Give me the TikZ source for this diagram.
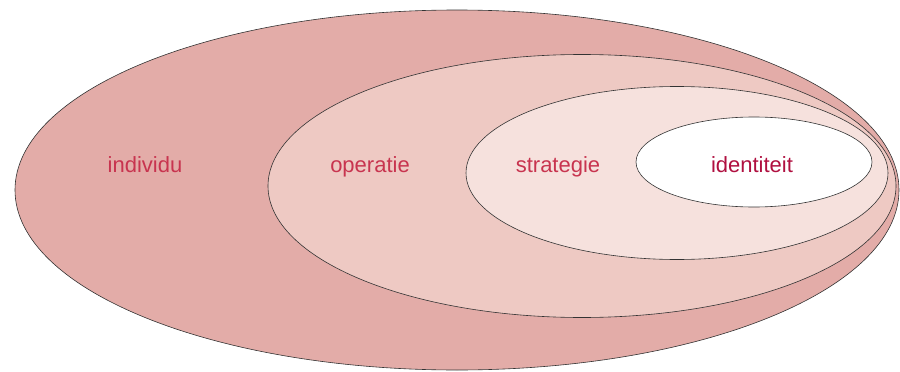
\documentclass[tikz,border=0pt]{standalone}
\usepackage{fontspec}
\setmainfont{Liberation Sans}
\usetikzlibrary{shapes.geometric}
\definecolor{ringA}{HTML}{E3ACA8}
\definecolor{ringB}{HTML}{EEC9C3}
\definecolor{ringC}{HTML}{F6E1DD}
\definecolor{labelred}{HTML}{C8344F}
\definecolor{labeldark}{HTML}{B01040}
\tikzset{
  ring/.style={ellipse, draw=black!80, line width=0.6pt, inner sep=0pt},
  lbl/.style={text=labelred, anchor=base, font=\fontsize{22}{26}\selectfont},
}
\begin{document}
\begin{tikzpicture}[x=1pt,y=-1pt]
  \useasboundingbox (0,0) rectangle (900,372);
                \node[ring, fill=ringA, minimum width=884pt, minimum height=360pt] (individu) at (457,190) {};
                \node[ring, fill=ringB, minimum width=628pt, minimum height=263pt] (operatie) at (582,186) {};
                \node[ring, fill=ringC, minimum width=422pt, minimum height=173pt] (strategie) at (677,173) {};
                \node[ring, fill=white, minimum width=236pt, minimum height=90pt] (identiteit) at (754,162) {};
                \node[lbl] (individulbl) at (145,172) {individu};
                \node[lbl] (operatielbl) at (370,172) {operatie};
                \node[lbl] (strategielbl) at (558,172) {strategie};
                \node[lbl, text=labeldark] (identiteitlbl) at (752,172) {identiteit};
            \end{tikzpicture}
\end{document}
